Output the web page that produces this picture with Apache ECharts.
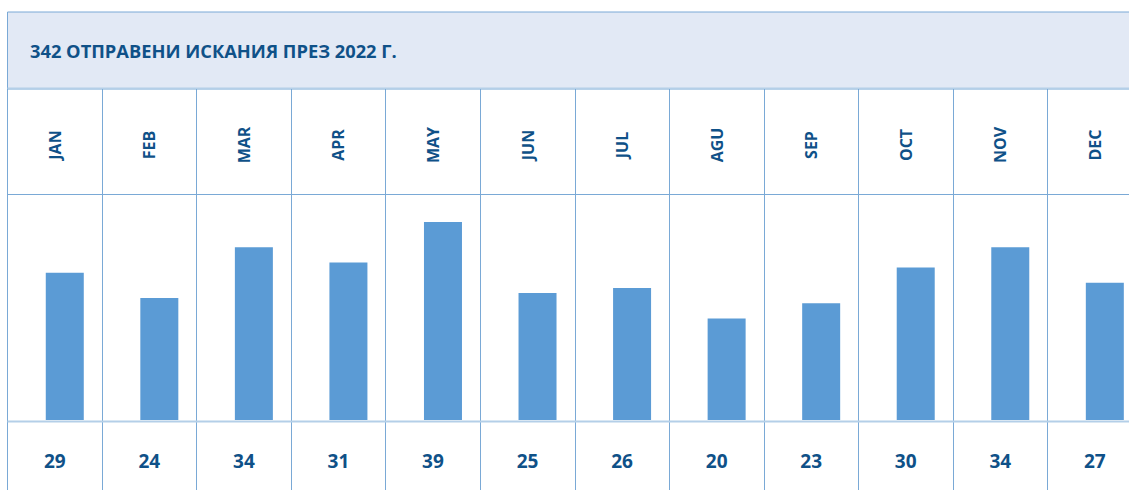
<!DOCTYPE html>
<html>
<head>
<meta charset="utf-8">
<script src="https://cdn.jsdelivr.net/npm/echarts@6/dist/echarts.min.js"></script>
<style>
  html, body { margin: 0; padding: 0; background: #fff; }
  #chart { width: 1129px; height: 490px; }
</style>
</head>
<body>
<div id="chart"></div>
<script>
const title = '342 ОТПРАВЕНИ ИСКАНИЯ ПРЕЗ 2022 Г.';
const months = ['JAN', 'FEB', 'MAR', 'APR', 'MAY', 'JUN', 'JUL', 'AGU', 'SEP', 'OCT', 'NOV', 'DEC'];
const requests = [29, 24, 34, 31, 39, 25, 26, 20, 23, 30, 34, 27];

const ink = '#0f5188';
const line = '#7aa9d6';
const lightLine = '#b4cfe8';
const font = '"Open Sans", sans-serif';

// 12 columns of ~94.55px, the last one runs past the right edge
const colW = 94.55;
const left = 7.5;
const right = 1129 - (left + colW * 12);

const chart = echarts.init(document.getElementById('chart'), null, { renderer: 'svg' });

chart.setOption({
  animation: false,
  backgroundColor: '#fff',
  title: {
    text: title,
    left: 30, top: 41, padding: 0,
    textStyle: { color: ink, fontSize: 18.3, fontWeight: 'bold', fontFamily: font }
  },
  graphic: [
    { type: 'rect', z: -1, shape: { x: left, y: 12, width: 1200, height: 77 },
      style: { fill: '#e2e9f5', stroke: line, lineWidth: 1 } },
    { type: 'line', shape: { x1: left, y1: 88.5, x2: 1129, y2: 88.5 },
      style: { stroke: lightLine, lineWidth: 2 } },
    { type: 'line', shape: { x1: left, y1: 194.5, x2: 1129, y2: 194.5 },
      style: { stroke: line, lineWidth: 1 } },
    { type: 'line', z: 10, shape: { x1: left, y1: 421.5, x2: 1129, y2: 421.5 },
      style: { stroke: lightLine, lineWidth: 2 } }
  ],
  grid: [
    { left: left, right: right, top: 89, bottom: 0, outerBoundsMode: 'none' },
    { left: left + 10, right: right - 10, top: 420 - 45 * 5.08, bottom: 70, outerBoundsMode: 'none' }
  ],
  xAxis: [
    {
      type: 'category', gridIndex: 0, position: 'top', data: months,
      axisLine: { show: false }, axisTick: { show: false },
      splitLine: { show: true, interval: 0, lineStyle: { color: line, width: 1 } },
      axisLabel: {
        inside: true, margin: 56, rotate: 90, interval: 0,
        align: 'center', verticalAlign: 'middle',
        color: ink, fontSize: 16, fontWeight: 'bold', fontFamily: font
      }
    },
    {
      type: 'category', gridIndex: 0, position: 'bottom', data: months,
      axisLine: { show: false }, axisTick: { show: false },
      axisLabel: {
        inside: true, margin: 29, interval: 0,
        align: 'center', verticalAlign: 'middle',
        formatter: (v, i) => String(requests[i]),
        color: ink, fontSize: 19, fontWeight: 'bold', fontFamily: font
      }
    },
    {
      type: 'category', gridIndex: 1, data: months, show: false
    }
  ],
  yAxis: [
    { type: 'value', gridIndex: 0, show: false },
    { type: 'value', gridIndex: 1, min: 0, max: 45, show: false }
  ],
  series: [{
    type: 'bar',
    xAxisIndex: 2, yAxisIndex: 1,
    data: requests,
    barWidth: 38,
    itemStyle: { color: '#5b9bd5' }
  }]
});
</script>
</body>
</html>
